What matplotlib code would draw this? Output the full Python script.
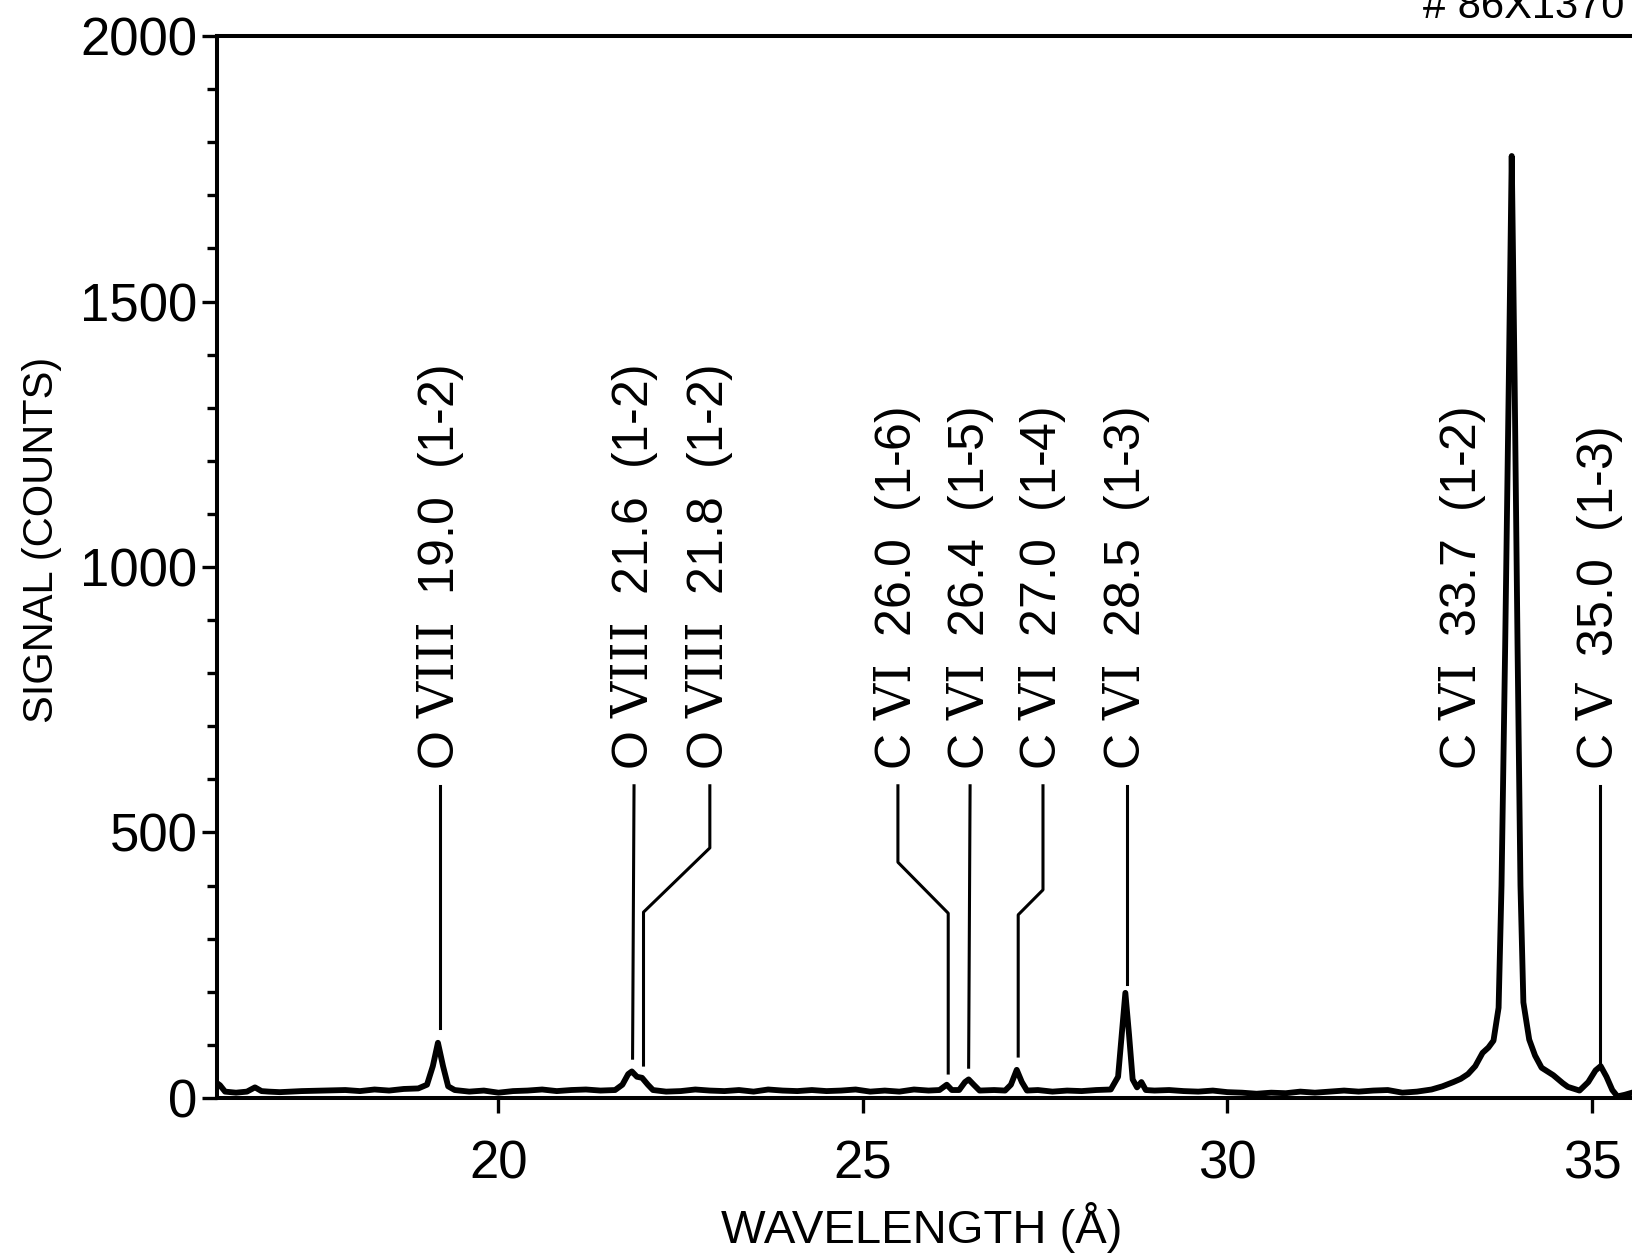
import numpy as np
import matplotlib
matplotlib.use("Agg")
import matplotlib.pyplot as plt
from matplotlib.ticker import MultipleLocator

plt.rcParams['font.family'] = ['Liberation Sans', 'DejaVu Sans']
plt.rcParams['mathtext.fontset'] = 'custom'
plt.rcParams['mathtext.rm'] = 'DejaVu Serif'

# spectrum (wavelength in A, signal in counts)
wavelength = [16.14, 16.18, 16.25, 16.4, 16.55, 16.66, 16.75, 16.85, 17.0, 17.3, 17.6, 17.9,
              18.1, 18.3, 18.5, 18.7, 18.9, 19.02, 19.1, 19.17, 19.24, 19.31, 19.4, 19.6,
              19.8, 20.0, 20.2, 20.4, 20.6, 20.8, 21.0, 21.2, 21.4, 21.6, 21.7, 21.78,
              21.83, 21.9, 21.97, 22.05, 22.12, 22.3, 22.5, 22.7, 22.9, 23.1, 23.3, 23.5,
              23.7, 23.9, 24.1, 24.3, 24.5, 24.7, 24.9, 25.1, 25.3, 25.5, 25.7, 25.9,
              26.05, 26.15, 26.22, 26.32, 26.4, 26.45, 26.52, 26.6, 26.8, 26.95, 27.03, 27.11,
              27.18, 27.25, 27.4, 27.6, 27.8, 28.0, 28.2, 28.4, 28.5, 28.55, 28.6, 28.65,
              28.7, 28.76, 28.82, 28.88, 29.0, 29.2, 29.4, 29.6, 29.8, 30.0, 30.2, 30.4,
              30.6, 30.8, 31.0, 31.2, 31.4, 31.6, 31.8, 32.0, 32.2, 32.4, 32.6, 32.8,
              32.95, 33.1, 33.2, 33.3, 33.4, 33.5, 33.58, 33.65, 33.72, 33.76, 33.81, 33.86,
              33.9, 33.94, 33.98, 34.02, 34.06, 34.14, 34.22, 34.31, 34.47, 34.6, 34.67, 34.83,
              34.95, 35.05, 35.12, 35.2, 35.28, 35.35, 35.45, 35.55]
counts = [28, 24, 12, 10, 12, 20, 13, 12, 11, 13, 14, 15,
          13, 16, 14, 17, 18, 25, 60, 104, 60, 22, 15, 12,
          14, 10, 13, 14, 16, 13, 15, 16, 14, 15, 25, 45,
          50, 40, 38, 25, 15, 12, 13, 16, 14, 13, 15, 12,
          16, 14, 13, 15, 13, 14, 16, 12, 14, 12, 16, 14,
          15, 25, 15, 15, 30, 35, 25, 14, 15, 14, 25, 53,
          30, 14, 15, 12, 14, 13, 15, 16, 40, 120, 198, 120,
          35, 20, 30, 15, 14, 15, 13, 12, 14, 11, 10, 8,
          10, 9, 12, 10, 12, 14, 12, 14, 15, 10, 12, 16,
          22, 30, 36, 45, 60, 85, 95, 108, 170, 400, 850, 1350,
          1774, 1350, 850, 400, 180, 110, 80, 57, 43, 28, 21, 14,
          30, 52, 60, 40, 15, 3, 6, 10]

# line identifications
ions = ['O', 'O', 'O', 'C', 'C', 'C', 'C', 'C', 'C']
stages = ['VIII', 'VIII', 'VIII', 'VI', 'VI', 'VI', 'VI', 'VI', 'V']
line_wl = ['19.0', '21.6', '21.8', '26.0', '26.4', '27.0', '28.5', '33.7', '35.0']
transitions = ['(1-2)', '(1-2)', '(1-2)', '(1-6)', '(1-5)', '(1-4)',
               '(1-3)', '(1-2)', '(1-3)']
label_x = [19.2, 21.86, 22.9, 25.48, 26.47, 27.47, 28.62, 33.22, 35.11]
# leader lines: x at top, x at bottom, bend start/end (counts), bottom end (counts)
leader_top_x = [19.2, 21.86, 22.9, 25.48, 26.47, 27.47, 28.62, None, 35.11]
leader_bot_x = [19.2, 21.84, 21.99, 26.17, 26.45, 27.13, 28.62, None, 35.11]
bend_hi = [None, None, 471, 444, None, 392, None, None, None]
bend_lo = [None, None, 350, 348, None, 345, None, None, None]
leader_end = [132, 75, 62, 47, 58, 79, 215, None, 68]
label_base = 618
leader_start = 588

fig = plt.figure(figsize=(16.32, 12.58), dpi=100)
ax = fig.add_axes([0.133, 0.12719, 0.867, 0.84419])

ax.plot(wavelength, counts, color='black', lw=4.2, solid_joinstyle='round')

for i in range(len(ions)):
    lab = ions[i] + ' $\\mathrm{' + stages[i] + '}$  ' + line_wl[i] + '  ' + transitions[i]
    ax.text(label_x[i], label_base, lab, rotation=90, ha='center', va='bottom',
            fontsize=36, color='black')
    if leader_top_x[i] is None:
        continue
    if bend_hi[i] is None:
        xs = [leader_top_x[i], leader_bot_x[i]]
        ys = [leader_start, leader_end[i]]
    else:
        xs = [leader_top_x[i], leader_top_x[i], leader_bot_x[i], leader_bot_x[i]]
        ys = [leader_start, bend_hi[i], bend_lo[i], leader_end[i]]
    ax.plot(xs, ys, color='black', lw=2.2)

ax.set_xlim(16.14, 35.55)
ax.set_ylim(0, 2000)
ax.set_xticks([20, 25, 30, 35])
ax.set_yticks([0, 500, 1000, 1500, 2000])
ax.yaxis.set_minor_locator(MultipleLocator(100))
ax.tick_params(axis='both', which='major', direction='out', length=11, width=2.4,
               labelsize=38, color='black')
ax.tick_params(axis='y', which='minor', direction='out', length=7, width=2.4)
ax.tick_params(axis='y', pad=3)
ax.tick_params(axis='x', pad=19)

for side in ['left', 'top', 'bottom']:
    ax.spines[side].set_linewidth(2.9)
ax.spines['right'].set_visible(False)

fig.text(0.565, 0.024, 'WAVELENGTH (Å)', fontsize=34, ha='center', va='center')
fig.text(0.026, 0.571, 'SIGNAL (COUNTS)', fontsize=30, ha='center', va='center',
         rotation=90)
fig.text(0.872, 1 - 18 / 1258, '# 86X1370', fontsize=30, ha='left', va='baseline')

fig.savefig('out.png', dpi=100)
